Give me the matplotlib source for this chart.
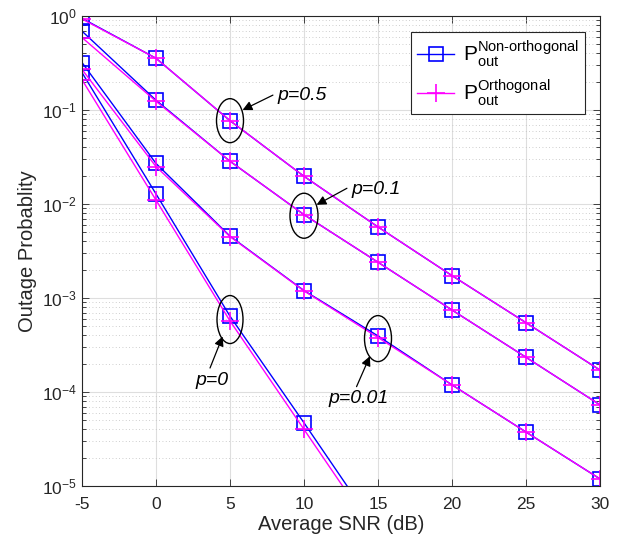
import matplotlib
matplotlib.use("Agg")
import matplotlib.pyplot as plt
from matplotlib.patches import Ellipse
from matplotlib.lines import Line2D
import numpy as np

plt.rcParams['font.family'] = ['Liberation Sans', 'DejaVu Sans']
plt.rcParams['mathtext.fontset'] = 'custom'
plt.rcParams['mathtext.rm'] = 'Liberation Sans'
plt.rcParams['mathtext.it'] = 'Liberation Sans:italic'
plt.rcParams['mathtext.bf'] = 'Liberation Sans:bold'

# data
snr_db = [-5, 0, 5, 10, 15, 20, 25, 30]

# non-orthogonal (blue squares)
nonorth_p05 = [0.945, 0.355, 0.077, 0.0197, 5.7e-3, 1.73e-3, 5.46e-4, 1.71e-4]
nonorth_p01 = [0.69, 0.127, 0.0285, 7.7e-3, 2.4e-3, 7.45e-4, 2.34e-4, 7.3e-5]
nonorth_p001 = [0.32, 0.027, 4.55e-3, 1.2e-3, 3.95e-4, 1.19e-4, 3.75e-5, 1.19e-5]
nonorth_p0 = [0.25, 0.0128, 6.4e-4, 4.7e-5, 3.3e-6, 2.3e-7, 1.6e-8, 1.1e-9]

# orthogonal (magenta plus)
orth_p05 = [0.93, 0.355, 0.077, 0.0197, 5.7e-3, 1.73e-3, 5.46e-4, 1.71e-4]
orth_p01 = [0.59, 0.124, 0.0285, 7.7e-3, 2.4e-3, 7.45e-4, 2.34e-4, 7.3e-5]
orth_p001 = [0.27, 0.025, 4.5e-3, 1.19e-3, 3.8e-4, 1.19e-4, 3.75e-5, 1.19e-5]
orth_p0 = [0.21, 0.011, 5.7e-4, 4.0e-5, 2.8e-6, 2.0e-7, 1.4e-8, 1.0e-9]

labels = [r'$\mathrm{P}_{\mathrm{out}}^{\text{Non-orthogonal}}$',
          r'$\mathrm{P}_{\mathrm{out}}^{\text{Orthogonal}}$']

blue = (0, 0, 1)
magenta = (1, 0, 1)
dark = (0.15, 0.15, 0.15)

fig = plt.figure(figsize=(6.32, 5.43), dpi=100)
ax = fig.add_axes([82 / 632, 1 - 486 / 543, 518 / 632, 470 / 543])

for ys in [nonorth_p05, nonorth_p01, nonorth_p001, nonorth_p0]:
    ax.semilogy(snr_db, ys, color=blue, lw=1.0, marker='s', ms=10.5,
                mfc='none', mec=blue, mew=1.2)
for ys in [orth_p05, orth_p01, orth_p001, orth_p0]:
    ax.semilogy(snr_db, ys, color=magenta, lw=1.0, marker='+', ms=13,
                mec=magenta, mew=1.2)

ax.set_xlim(-5, 30)
ax.set_ylim(1e-5, 1)
ax.set_xticks(snr_db)
ax.set_xticklabels([str(v) for v in snr_db])

ax.tick_params(which='both', direction='in', top=True, right=True,
               labelsize=12.5, colors=dark, width=0.6)
ax.tick_params(which='major', length=5)
ax.tick_params(which='minor', length=3)
ax.tick_params(axis='x', pad=8)
for s in ax.spines.values():
    s.set_color(dark)
    s.set_linewidth(0.8)

ax.grid(True, which='major', color=(0.87, 0.87, 0.87), lw=0.8, ls='-')
ax.grid(True, which='minor', axis='y', color=(0.75, 0.75, 0.75), lw=0.6,
        ls=(0, (1, 3)))
ax.set_axisbelow(True)

ax.set_xlabel('Average SNR (dB)', fontsize=14.5, color=dark, labelpad=2)
ax.set_ylabel('Outage Probablity', fontsize=14.5, color=dark, labelpad=4)

# ellipses + labels
to_axes = ax.transScale + ax.transLimits
marks = [((5, 0.077), 27, 44), ((10, 0.0075), 28, 45),
         ((5, 5.9e-4), 26, 48), ((15, 3.7e-4), 27, 46)]
for (cx, cy), w, h in marks:
    c = to_axes.transform((cx, cy))
    ax.add_patch(Ellipse(c, w / 518, h / 470, transform=ax.transAxes,
                         fill=False, ec='k', lw=1.0, zorder=5))

texts = [(8.2, 0.141, 'p=0.5', 'left'), (13.2, 0.0143, 'p=0.1', 'left'),
         (3.8, 1.32e-4, 'p=0', 'center'), (13.7, 8.6e-5, 'p=0.01', 'center')]
for tx, ty, s, ha in texts:
    ax.text(tx, ty, s, fontsize=14, style='italic', ha=ha, va='center', color='k')

arrows = [((7.9, 0.144), (5.85, 0.1)), ((12.9, 0.0147), (10.85, 0.0098)),
          ((3.65, 1.8e-4), (4.5, 3.9e-4)), ((13.55, 1.14e-4), (14.45, 2.4e-4))]
for tail, head in arrows:
    ax.annotate('', xy=head, xytext=tail,
                arrowprops=dict(arrowstyle='-|>', color='k', lw=0.9,
                                mutation_scale=14, shrinkA=0, shrinkB=0))

handles = [Line2D([], [], color=blue, lw=1.0, marker='s', ms=10.5, mfc='none', mew=1.2),
           Line2D([], [], color=magenta, lw=1.0, marker='+', ms=13, mew=1.2)]
leg = ax.legend(handles, labels, loc='upper right', bbox_to_anchor=(0.971, 0.966),
                fontsize=15, frameon=True, fancybox=False, framealpha=1,
                edgecolor=dark, handlelength=1.8, borderpad=0.3,
                labelspacing=0.4, handletextpad=0.4, borderaxespad=0)
leg.get_frame().set_linewidth(0.8)

fig.savefig('out.png', dpi=100)
